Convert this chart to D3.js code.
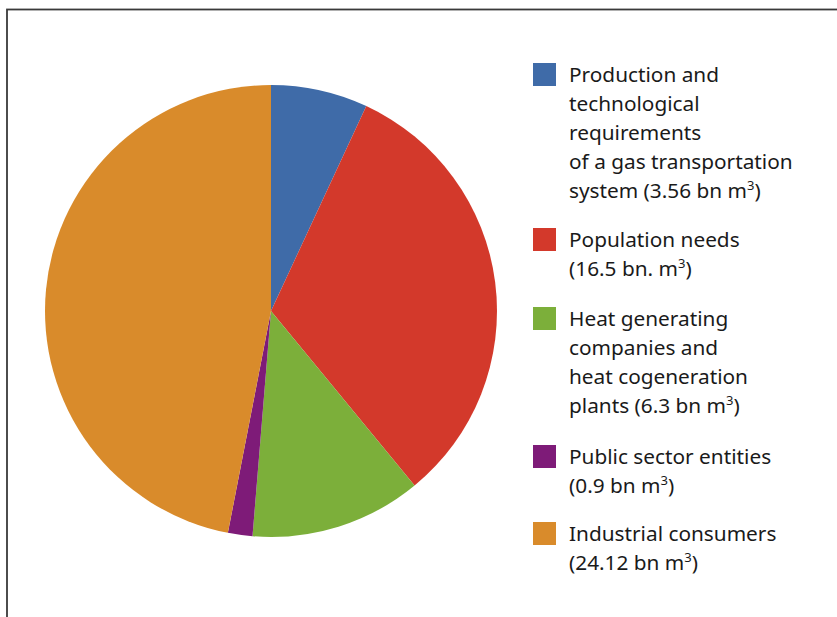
<!DOCTYPE html>
<meta charset="utf-8">
<head>
  <title>Gas consumption structure</title>
</head>
<style>
body { margin: 0; background: #fff; }
text { font-family: "Noto Sans", "Open Sans", sans-serif; fill: #1a1a1a; }
</style>
<body>
  <svg width="837" height="617"></svg>

  <script src="https://cdnjs.cloudflare.com/ajax/libs/d3/7.8.5/d3.min.js"></script>
  <script>
var categories = ['Production and technological requirements of a gas transportation system',
                  'Population needs', 'Heat generating companies and heat cogeneration plants',
                  'Public sector entities', 'Industrial consumers']
var values = [3.56, 16.5, 6.3, 0.9, 24.12]
var colors = ['#3f6ba8', '#d3392b', '#7caf3a', '#7e1b78', '#d98b2b']
// legend lines; the last line of each entry ends with "m" + superscript 3 + ")"
var legendLines = [
  ['Production and', 'technological', 'requirements', 'of a gas transportation', 'system (3.56 bn m'],
  ['Population needs', '(16.5 bn. m'],
  ['Heat generating', 'companies and', 'heat cogeneration', 'plants (6.3 bn m'],
  ['Public sector entities', '(0.9 bn m'],
  ['Industrial consumers', '(24.12 bn m']
]

var width = 837, height = 617
var svg = d3.select('svg')

// frame (only top and left edges are inside the picture)
svg.append('rect')
  .attr('x', 7).attr('y', 9.5)
  .attr('width', 900).attr('height', 700)
  .attr('fill', 'none')
  .attr('stroke', '#3a3a3a')
  .attr('stroke-width', 1.8)

var cx = 271, cy = 311, radius = 226

var pie = d3.pie().sort(null)
var arc = d3.arc().innerRadius(0).outerRadius(radius)

svg.append('g')
  .attr('transform', 'translate(' + cx + ',' + cy + ')')
  .selectAll('path')
  .data(pie(values))
  .enter()
  .append('path')
  .attr('d', arc)
  .attr('fill', function(d, i) { return colors[i] })

// legend
var swatchTops = [63, 228, 307, 445, 522]
var lineH = 29

var leg = svg.append('g')
  .selectAll('g')
  .data(categories)
  .enter()
  .append('g')
  .attr('transform', function(d, i) { return 'translate(533,' + swatchTops[i] + ')' })

leg.append('rect')
  .attr('width', 23).attr('height', 23)
  .attr('fill', function(d, i) { return colors[i] })

leg.each(function(d, i) {
  var lines = legendLines[i]
  var t = d3.select(this).append('text')
    .attr('x', 36).attr('y', 19)
    .style('font-size', '20.8px')
  lines.forEach(function(line, j) {
    t.append('tspan')
      .attr('x', 36)
      .attr('y', 19 + j * lineH)
      .text(line)
  })
  t.append('tspan').attr('dy', -8).style('font-size', '13px').text('3')
  t.append('tspan').attr('dy', 8).text(')')
})
  </script>
</body>
</html>
